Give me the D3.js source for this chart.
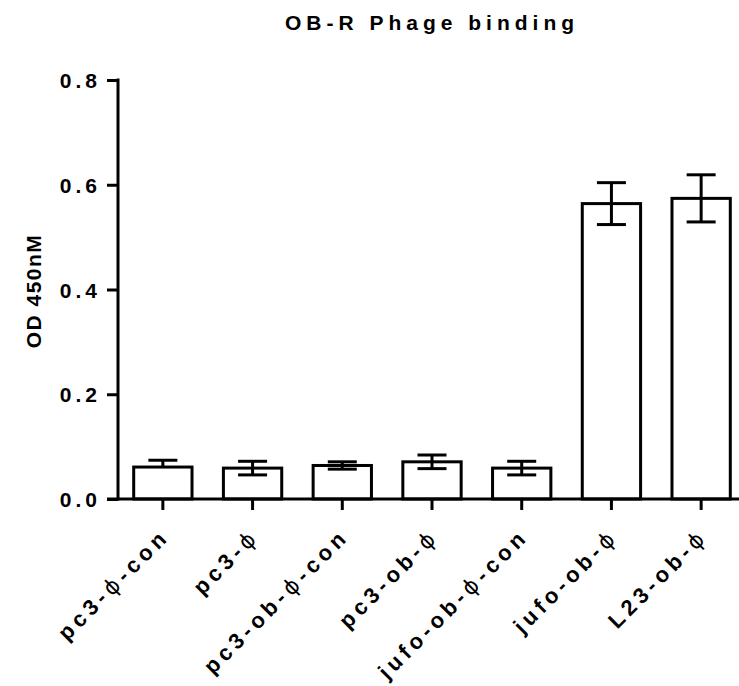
<!DOCTYPE html>
<html>
<head>
<meta charset="utf-8">
<script src="https://cdn.jsdelivr.net/npm/d3@7"></script>
<style>
  body { margin: 0; background: #fff; }
  svg text { font-family: "Liberation Sans", Arial, sans-serif; font-weight: bold; fill: #000; }
</style>
</head>
<body>
<div class="chart"></div>
<script>
// data
const groups = ['pc3-ϕ-con', 'pc3-ϕ', 'pc3-ob-ϕ-con', 'pc3-ob-ϕ', 'jufo-ob-ϕ-con', 'jufo-ob-ϕ', 'L23-ob-ϕ'];
const means = [0.061, 0.059, 0.064, 0.071, 0.059, 0.564, 0.574];
const errUp = [0.013, 0.013, 0.007, 0.013, 0.013, 0.040, 0.045];
const errDown = [0, 0.013, 0.007, 0.013, 0.013, 0.040, 0.045];
const yTicks = [0, 0.2, 0.4, 0.6, 0.8];

const width = 739, height = 686;
const svg = d3.select('.chart').append('svg').attr('width', width).attr('height', height);

const x = d3.scaleBand().domain(groups).range([118, 746]).padding(0);
const y = d3.scaleLinear().domain([0, 0.8]).range([499, 80]);
const barW = x.bandwidth() * 0.65;
const capW = 29;
const cx = d => x(d) + x.bandwidth() / 2;

// title
svg.append('text')
  .attr('x', 432).attr('y', 30)
  .attr('text-anchor', 'middle')
  .style('font-size', '21px')
  .style('letter-spacing', '5px')
  .text('OB-R Phage binding');

// y axis
const yAxis = d3.axisLeft(y).tickValues(yTicks).tickFormat(d3.format('.1f')).tickSize(11).tickSizeOuter(0);
const yG = svg.append('g').attr('transform', 'translate(118,0)').call(yAxis);
yG.select('.domain').attr('stroke-width', 3).attr('d', `M0,${y(0.8) - 1.5}V${y(0) + 1.5}`);
yG.selectAll('.tick line').attr('stroke-width', 3);
yG.selectAll('.tick text')
  .attr('x', -17).attr('dy', '0.36em')
  .style('font-size', '21px')
  .style('letter-spacing', '4px');

svg.append('text')
  .attr('transform', 'translate(41,291) rotate(-90)')
  .attr('text-anchor', 'middle')
  .style('font-size', '21px')
  .style('letter-spacing', '1.5px')
  .text('OD 450nM');

// bars
svg.append('g').selectAll('rect').data(groups).join('rect')
  .attr('x', d => cx(d) - barW / 2)
  .attr('y', (d, i) => y(means[i]))
  .attr('width', barW)
  .attr('height', (d, i) => y(0) - y(means[i]))
  .attr('fill', '#fff')
  .attr('stroke', '#000')
  .attr('stroke-width', 3);

// error bars
const eb = svg.append('g').attr('stroke', '#000').attr('stroke-width', 3);
groups.forEach((g, i) => {
  const hi = y(means[i] + errUp[i]);
  const lo = y(means[i] - errDown[i]);
  eb.append('line').attr('x1', cx(g)).attr('x2', cx(g)).attr('y1', hi).attr('y2', lo);
  eb.append('line').attr('x1', cx(g) - capW / 2).attr('x2', cx(g) + capW / 2).attr('y1', hi).attr('y2', hi);
  if (errDown[i] > 0) {
    eb.append('line').attr('x1', cx(g) - capW / 2).attr('x2', cx(g) + capW / 2).attr('y1', lo).attr('y2', lo);
  }
});

// x axis
const xAxis = d3.axisBottom(x).tickSize(11).tickSizeOuter(0).tickFormat('');
const xG = svg.append('g').attr('transform', `translate(0,${y(0)})`).call(xAxis);
xG.select('.domain').attr('stroke-width', 3).attr('d', 'M107,0H746');
xG.selectAll('.tick line').attr('stroke-width', 3);

// rotated category labels, phi drawn thin
svg.append('g').selectAll('text').data(groups).join('text')
  .attr('transform', d => `translate(${cx(d) - 3},${527}) rotate(-45)`)
  .attr('text-anchor', 'end')
  .attr('dy', '0.7em')
  .style('font-size', '22px')
  .style('letter-spacing', '4.5px')
  .each(function(d) {
    const t = d3.select(this);
    d.split(/(ϕ)/).forEach(part => {
      if (!part) return;
      const s = t.append('tspan').text(part);
      if (part === 'ϕ') s.style('font-weight', 'normal').style('font-family', 'DejaVu Sans');
    });
  });
</script>
</body>
</html>
